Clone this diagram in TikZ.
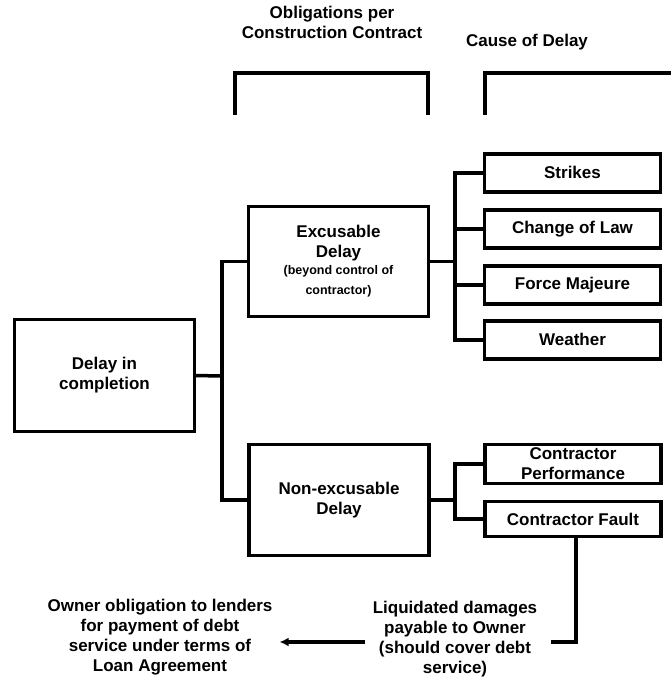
\documentclass[tikz,border=0pt]{standalone}
\usepackage{fontspec}
\setmainfont{Liberation Sans}
\usetikzlibrary{arrows.meta, positioning}
\newcommand{\smallnote}{\fontsize{12.5}{14}\selectfont}
\tikzset{%
>={Latex[width=9pt,length=9pt]},
  % Specifications for style of nodes:
            base/.style = {rectangle, draw=black, line width=3.5pt, outer sep=0pt,
                            fill=white, align=center, inner sep=1pt,
                            font=\bfseries\fontsize{17}{20}\selectfont},
            cause/.style = {base, minimum width=176pt, minimum height=38pt},
            oblig/.style = {base, minimum width=180pt, minimum height=110pt},
            label/.style = {align=center, inner sep=0pt,
                            font=\bfseries\fontsize{17}{20}\selectfont},
            conn/.style = {line width=3.5pt}
}
\begin{document}
\begin{tikzpicture}[x=1pt, y=-1pt]
  \useasboundingbox (0,0) rectangle (671,685);

  % headings and their brackets
  \node[label] (obl) at (332,22) {Obligations per\\Construction Contract};
  \node[label] (why) at (527,42) {Cause of Delay};
  \draw[conn] (235,115) |- (428,73) -- (428,115);
  \draw[conn] (485,115) |- (680,73);

  % left side
  \node[oblig, minimum height=112pt] (delay) at (104.5,375.5) {Delay in\\completion};
  \node[oblig] (exc) at (338.5,261.5) {Excusable\\Delay\\[-3pt]\smallnote (beyond control of\\\smallnote contractor)};
  \node[oblig, minimum height=111pt] (nonexc) at (339,500) {Non-excusable\\Delay};

  % causes
  \node[cause] (strikes) at (572.5,172.75) {Strikes};
  \node[cause, below=18pt of strikes] (law) {Change of Law};
  \node[cause, below=18pt of law] (force) {Force Majeure};
  \node[cause, below=17pt of force] (weather) {Weather};
  \node[cause, minimum height=39pt, inner sep=0pt] (perf) at (573,464) {Contractor\\Performance};
  \node[cause, minimum height=35pt, below=18pt of perf] (fault) {Contractor Fault};

  % bottom texts
  \node[label] (liq) at (455,639) {Liquidated damages\\payable to Owner\\(should cover debt\\service)};
  \node[label] (owner) at (160,637) {Owner obligation to lenders\\for payment of debt\\service under terms of\\Loan Agreement};

  \coordinate (j1) at (222,376);
  \coordinate (j2) at (455,261.5);
  \coordinate (j3) at (455,500);
  \draw[conn] (delay.east) -- (j1);
  \draw[conn] (exc.west) -| (j1) |- (nonexc.west);
  \draw[conn] (exc.east) -- (j2);
  \draw[conn] (strikes.west) -| (j2) |- (weather.west);
  \draw[conn] (law.west) -- (law.west -| j2);
  \draw[conn] (force.west) -- (force.west -| j2);
  \draw[conn] (nonexc.east) -- (j3);
  \draw[conn] (perf.west) -| (j3) |- (fault.west);
  \draw[conn] ([xshift=3pt]fault.south) |- ([xshift=14pt,yshift=-3pt]liq.east);
  \draw[conn, ->] ([xshift=-8pt,yshift=-3pt]liq.west) -- ([xshift=7pt,yshift=-5pt]owner.east);
\end{tikzpicture}
\end{document}
